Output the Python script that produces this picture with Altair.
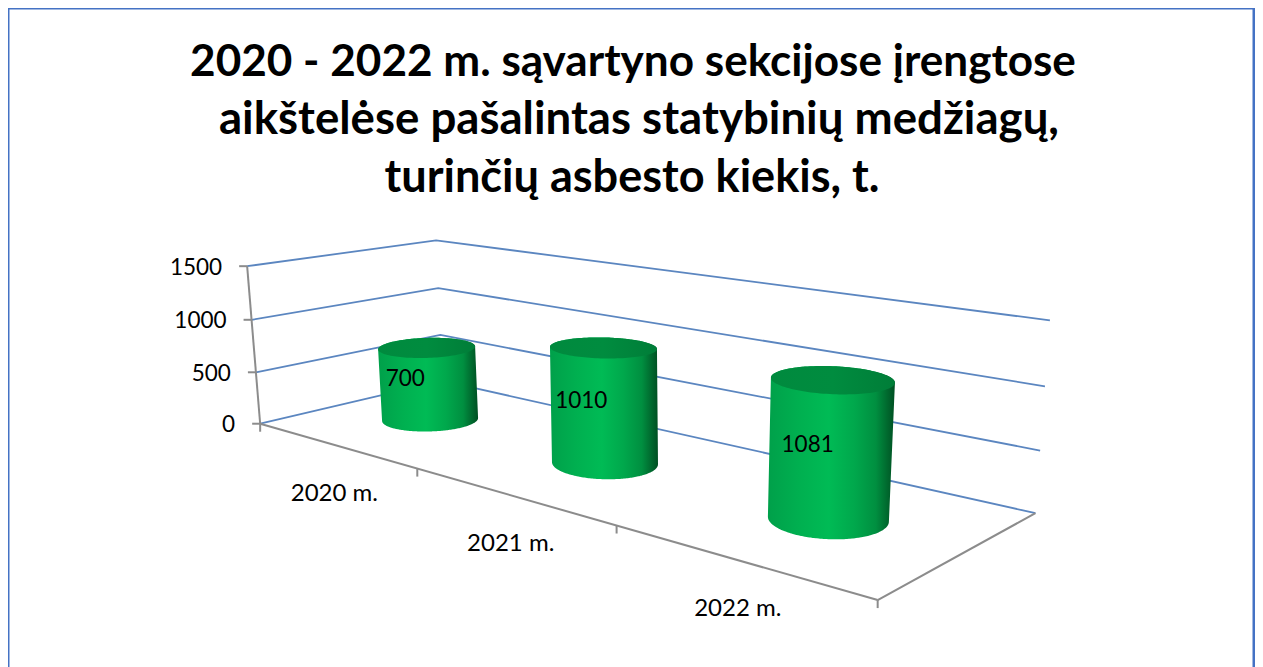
import numpy as np
import pandas as pd
import altair as alt

# ---------- chart content ----------
title_lines = ["2020 - 2022 m. sąvartyno sekcijose įrengtose",
               "aikštelėse pašalintas statybinių medžiagų,",
               "turinčių asbesto kiekis, t."]
categories = ["2020 m.", "2021 m.", "2022 m."]
values = [700, 1010, 1081]
value_ticks = [0, 500, 1000, 1500]

# ---------- camera of the 3-D scene, calibrated on the chart's box ----------
V = 1500.0
calib = [
    (0, 0, 0, 260, 424), (0, 0, 500, 255.5, 372), (0, 0, 1000, 251.5, 320), (0, 0, 1500, 247.5, 267),
    (0, 1, 0, 443, 381), (0, 1, 500, 440.5, 335), (0, 1, 1000, 438, 288), (0, 1, 1500, 436, 240),
    (1, 1, 0, 1035, 514), (1, 1, 500, 1040, 451), (1, 1, 1000, 1045, 386), (1, 1, 1500, 1050, 320),
    (1, 0, 0, 878, 600), (1/3, 0, 0, 417, 468), (2/3, 0, 0, 617, 525),
]
A, b = [], []
for u, d, h, px, py in calib:
    h = h / V
    A.append([u, d, h, 1, 0, 0, 0, 0, -px*u, -px*d, -px*h]); b.append(px)
    A.append([0, 0, 0, 0, u, d, h, 1, -py*u, -py*d, -py*h]); b.append(py)
P = np.linalg.lstsq(np.array(A, float), np.array(b, float), rcond=None)[0]

def project(u, d, h):
    h = h / V
    w = P[8]*u + P[9]*d + P[10]*h + 1
    return (P[0]*u + P[1]*d + P[2]*h + P[3]) / w, (P[4]*u + P[5]*d + P[6]*h + P[7]) / w

# ---------- cylinder geometry ----------
cyl_u = [0.164, 0.497, 0.833]
cyl_d = [0.5, 0.5, 0.5]
top_a = [48.5, 53.5, 62.0]
bot_a = [48.0, 53.0, 60.5]
top_b = [10.0, 10.5, 14.0]
bot_b = [12.0, 16.0, 20.0]
tilt = [-0.03, 0.02, 0.04]

def ellipse(cx, cy, a, bb, k, n=120):
    t = np.linspace(0, 2*np.pi, n, endpoint=False)
    x = a*np.cos(t)
    y = bb*np.sin(t) + k*x
    return cx + x, cy + y

def hull_area(x, y):
    pts = sorted(set(zip(np.round(x, 3).tolist(), np.round(y, 3).tolist())))
    def cross(o, p, q):
        return (p[0]-o[0])*(q[1]-o[1]) - (p[1]-o[1])*(q[0]-o[0])
    lo, up = [], []
    for p in pts:
        while len(lo) >= 2 and cross(lo[-2], lo[-1], p) <= 0:
            lo.pop()
        lo.append(p)
    for p in pts:
        while len(up) >= 2 and cross(up[-2], up[-1], p) >= 0:
            up.pop()
        up.append(p)
    lo, up = np.array(lo), np.array(up)
    xs = np.unique(np.r_[lo[:, 0], up[:, 0]])
    return pd.DataFrame({"x": xs, "y": np.interp(xs, lo[:, 0], lo[:, 1]),
                         "y2": np.interp(xs, up[:, 0], up[:, 1])})

X = alt.X("x:Q", scale=alt.Scale(domain=[8, 1254], nice=False, zero=False), axis=None)
Y = alt.Y("y:Q", scale=alt.Scale(domain=[672, 8], nice=False, zero=False), axis=None)

def seg(rows):
    return pd.DataFrame(rows, columns=["x", "y", "x2", "y2"])

# ---------- walls: gridlines ----------
grid_rows = []
for h in value_ticks:
    for i, (u, d) in enumerate([(0, 0), (0, 1), (1, 1)]):
        px, py = project(u, d, h)
        grid_rows.append({"level": h, "i": i, "x": px, "y": py})
grid = alt.Chart(pd.DataFrame(grid_rows)).mark_line(color="#5b86c0", strokeWidth=1.8).encode(
    x=X, y=Y, detail="level:N", order="i:Q")

# ---------- axes ----------
axis_rows = []
p0 = project(0, 0, 0); p1 = project(0, 0, V); p2 = project(1, 0, 0); p3 = project(1, 1, 0)
axis_rows += [[*p0, *p1], [*p0, *p2], [*p2, *p3]]
for h in value_ticks:
    px, py = project(0, 0, h)
    axis_rows.append([px - 8, py, px, py])
for u in [0, 1/3, 2/3, 1]:
    px, py = project(u, 0, 0)
    axis_rows.append([px, py, px, py + 8])
axes = alt.Chart(seg(axis_rows)).mark_rule(color="#8c8c8c", strokeWidth=2).encode(
    x=X, y=Y, x2="x2:Q", y2="y2:Q")

# ---------- cylinders ----------
body_grad = alt.Gradient(gradient="linear", x1=0, x2=1, y1=0, y2=0, stops=[
    alt.GradientStop(color="#00a04a", offset=0),
    alt.GradientStop(color="#00b050", offset=0.25),
    alt.GradientStop(color="#00bb55", offset=0.48),
    alt.GradientStop(color="#00a84c", offset=0.68),
    alt.GradientStop(color="#008f40", offset=0.85),
    alt.GradientStop(color="#004f22", offset=1)])
top_grad = alt.Gradient(gradient="linear", x1=0, x2=1, y1=0, y2=0, stops=[
    alt.GradientStop(color="#008a3e", offset=0),
    alt.GradientStop(color="#008c3f", offset=0.5),
    alt.GradientStop(color="#007d38", offset=1)])

cyl_layers = []
for i, val in enumerate(values):
    bx, by = project(cyl_u[i], cyl_d[i], 0)
    tx, ty = project(cyl_u[i], cyl_d[i], val)
    ex1, ey1 = ellipse(tx, ty, top_a[i], top_b[i], tilt[i])
    ex2, ey2 = ellipse(bx, by, bot_a[i], bot_b[i], tilt[i])
    body = hull_area(np.r_[ex1, ex2], np.r_[ey1, ey2])
    cap = hull_area(ex1, ey1)
    cyl_layers.append(alt.Chart(body).mark_area(color=body_grad).encode(x=X, y=Y, y2="y2:Q"))
    cyl_layers.append(alt.Chart(cap).mark_area(color=top_grad).encode(x=X, y=Y, y2="y2:Q"))

# ---------- texts ----------
title_df = pd.DataFrame({"x": [633, 639, 632], "y": [76, 134, 192], "t": title_lines, "s": [44.1, 45.6, 45.1]})
title = alt.Chart(title_df).mark_text(font="Lato", fontWeight="bold", align="center",
                                      baseline="alphabetic", color="#000000").encode(
    x=X, y=Y, text="t:N", size=alt.Size("s:Q", scale=None, legend=None))

vt = []
for h in value_ticks:
    px, py = project(0, 0, h)
    vt.append({"x": px - 25, "y": py + 1.5, "t": str(h)})
vlabels = alt.Chart(pd.DataFrame(vt)).mark_text(font="Lato", fontSize=22.5, align="right",
                                                baseline="middle", color="#000000").encode(x=X, y=Y, text="t:N")

ct = []
for i, c in enumerate(categories):
    px, py = project((i + 0.5) / 3, 0, 0)
    ct.append({"x": px, "y": py + 49, "t": c})
clabels = alt.Chart(pd.DataFrame(ct)).mark_text(font="Lato", fontSize=24, align="center",
                                                baseline="middle", color="#000000").encode(x=X, y=Y, text="t:N")

dt = []
for i, val in enumerate(values):
    bx, by = project(cyl_u[i], cyl_d[i], 0)
    tx, ty = project(cyl_u[i], cyl_d[i], val)
    dt.append({"x": (bx + tx) / 2 - 23, "y": (by + ty) / 2 - 4.5, "t": str(val)})
dlabels = alt.Chart(pd.DataFrame(dt)).mark_text(font="Lato", fontSize=22.5, align="center",
                                                baseline="middle", color="#000000").encode(x=X, y=Y, text="t:N")

chart = alt.layer(grid, axes, *cyl_layers, title, vlabels, clabels, dlabels).properties(
    width=1246, height=664,
    autosize=alt.AutoSizeParams(type="none"),
    padding={"left": 0, "top": 0, "right": 1, "bottom": 0},
    background="#ffffff",
).configure_view(stroke="#4472c4", strokeWidth=3)

chart.save("out.html", embed_options={"renderer": "svg", "actions": False})
